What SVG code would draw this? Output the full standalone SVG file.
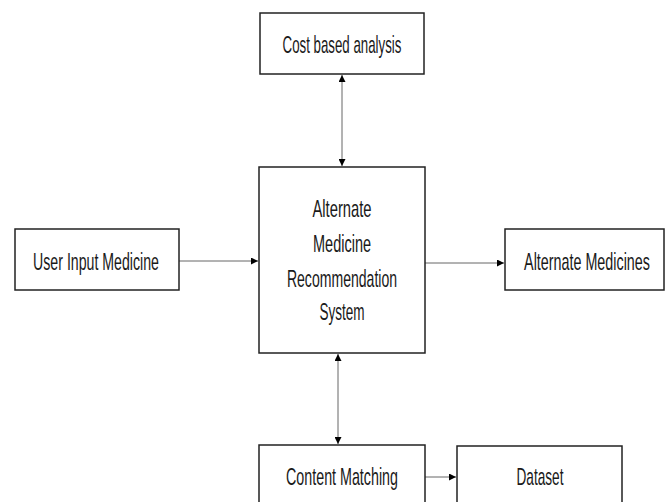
<svg xmlns="http://www.w3.org/2000/svg" width="665" height="502" viewBox="0 0 665 502">
<style>
.box{fill:#fff;stroke:#222;stroke-width:1.5}
.t{font-family:"Liberation Sans",Arial,sans-serif;font-size:24px;fill:#1a1a1a;text-anchor:middle}
.c{stroke:#666;stroke-width:1;fill:none}
</style>
<defs>
<marker id="ah" viewBox="0 0 10 10" refX="10" refY="5" markerWidth="7" markerHeight="7" markerUnits="userSpaceOnUse" orient="auto-start-reverse">
<path d="M0,0 L10,5 L0,10 z" fill="#000"/>
</marker>
</defs>
<rect width="665" height="502" fill="#fff"/>
<g id="connectors">
<line class="c" x1="342" y1="75" x2="342" y2="166" marker-start="url(#ah)" marker-end="url(#ah)"/>
<line class="c" x1="179" y1="261" x2="258" y2="261" marker-end="url(#ah)"/>
<line class="c" x1="425" y1="263" x2="504" y2="263" marker-end="url(#ah)"/>
<line class="c" x1="338" y1="354" x2="338" y2="444" marker-start="url(#ah)" marker-end="url(#ah)"/>
<line class="c" x1="425" y1="477" x2="456" y2="477" marker-end="url(#ah)"/>
</g>
<g id="cost">
<rect class="box" x="260" y="13" width="164" height="61"/>
<text class="t" transform="translate(342,53) scale(0.58,1)" textLength="205" lengthAdjust="spacingAndGlyphs">Cost based analysis</text>
</g>
<g id="user">
<rect class="box" x="15" y="229" width="164" height="61"/>
<text class="t" transform="translate(96,270) scale(0.58,1)" textLength="217" lengthAdjust="spacingAndGlyphs">User Input Medicine</text>
</g>
<g id="system">
<rect class="box" x="259" y="167" width="166" height="186"/>
<text class="t" transform="translate(342,217) scale(0.58,1)" textLength="102" lengthAdjust="spacingAndGlyphs">Alternate</text>
<text class="t" transform="translate(342,252) scale(0.58,1)" textLength="100" lengthAdjust="spacingAndGlyphs">Medicine</text>
<text class="t" transform="translate(342,287) scale(0.58,1)" textLength="190" lengthAdjust="spacingAndGlyphs">Recommendation</text>
<text class="t" transform="translate(342,320) scale(0.58,1)" textLength="78" lengthAdjust="spacingAndGlyphs">System</text>
</g>
<g id="alternates">
<rect class="box" x="505" y="229" width="159" height="61"/>
<text class="t" transform="translate(587,270) scale(0.58,1)" textLength="217" lengthAdjust="spacingAndGlyphs">Alternate Medicines</text>
</g>
<g id="content">
<rect class="box" x="259" y="445" width="166" height="80"/>
<text class="t" transform="translate(342,485) scale(0.58,1)" textLength="193" lengthAdjust="spacingAndGlyphs">Content Matching</text>
</g>
<g id="dataset">
<rect class="box" x="457" y="446" width="165" height="80"/>
<text class="t" transform="translate(540,485) scale(0.58,1)" textLength="81" lengthAdjust="spacingAndGlyphs">Dataset</text>
</g>
</svg>
